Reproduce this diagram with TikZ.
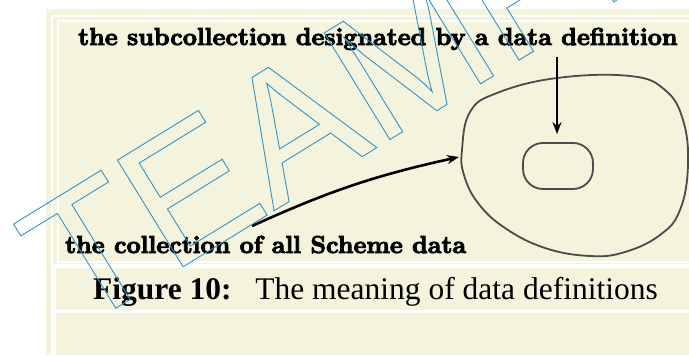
\documentclass[tikz,border=0pt]{standalone}
\usepackage{fontspec}
\newfontfamily\capfont{Liberation Serif}
\newfontfamily\markfont{Liberation Sans}
\newfontfamily\labelfont{lmroman10-bold}[Extension=.otf]
\usetikzlibrary{arrows.meta,positioning}
\definecolor{paper}{RGB}{244,244,221}
\definecolor{markblue}{RGB}{45,150,205}
\definecolor{setgray}{RGB}{75,75,75}
% stroke the glyphs as well as filling them (heavy) or only stroke them (outline)
\newcommand\heavytext[1]{\special{pdf:literal direct 2 Tr 0.9 w}#1\special{pdf:literal direct 0 Tr}}
\newcommand\outlinetext[1]{\special{pdf:literal direct 1 Tr 0.9 w}#1\special{pdf:literal direct 0 Tr}}

\begin{document}
\begin{tikzpicture}[x=1pt,y=-1pt,
                    label text/.style={inner sep=0pt,anchor=base west,font=\labelfont\fontsize{24.5}{26}\selectfont},
                    frame line/.style={white,line width=2pt},
                    pointer/.style={-{Stealth[length=12pt,width=9pt]},line width=2pt},
                    set line/.style={draw=setgray,line width=1.8pt}]

  \useasboundingbox (0,0) rectangle (689,356);
  \fill[white] (0,0) rectangle (689,356);
  \fill[paper] (46,9) rectangle (689,355);
  %frames%
  \draw[frame line] (52,356) -- (52,16) -- (689,16);
  \draw[frame line] (57.5,262) -- (57.5,21) -- (689,21);
  \draw[frame line] (57,262) -- (689,262);
  \fill[white] (51,264) rectangle (689,267.5);
  \fill[white] (51,264) rectangle (56,356);
  \fill[white] (51,309.5) rectangle (689,312.5);

  %texts%
  \node[label text] (subtext) at (78,45) {\heavytext{the subcollection designated by a data definition}};
  \node[label text] (alltext) at (65,253) {\heavytext{the collection of all Scheme data}};
  \node[inner sep=0pt,anchor=base west,font=\capfont\fontsize{31.5}{33}\selectfont] (caption) at (93,299)
    {\textbf{Figure 10:}\hspace{0.75em}The meaning of data definitions};

  %sets%
  \draw[set line] plot[smooth cycle,tension=0.7] coordinates {(462,150) (470,112) (497,93) (557,78)
    (630,76) (665,90) (683,120) (688,165) (680,210) (660,235) (625,252) (590,256) (545,248)
    (505,228) (478,203) (464,175)};
  \node[set line,rounded corners=20pt,minimum width=70pt,minimum height=46pt] (sub) at (558,166) {};

  %arrows%
  \coordinate (subtop) at (557,57);
  \coordinate (allstart) at (252,226);
  \coordinate (alltip) at (459,157);
  \draw[pointer,shorten >=8pt] (subtop) -- (subtop |- sub.north);
  \draw[pointer,line width=2.6pt] (allstart) to[bend left=6] (alltip);

  %watermark%
  \node[markblue,inner sep=0pt,anchor=base west,rotate=31.6,font=\markfont\fontsize{182}{182}\selectfont] (teamfly) at (75.5,333)
    {\outlinetext{TEAMFLY}};
\end{tikzpicture}
\end{document}
